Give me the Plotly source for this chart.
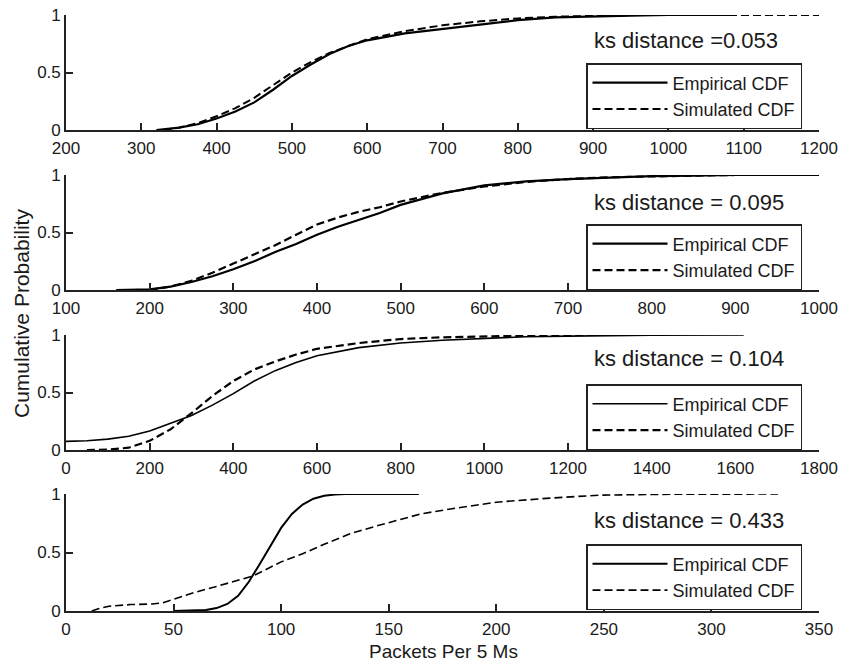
import plotly.graph_objects as go

# ---------------- data ----------------
# Panel 1
p1_emp_x = [320, 350, 375, 400, 425, 450, 475, 500, 525, 550, 575, 600, 650, 700, 750, 800, 850, 900, 950, 1000, 1085]
p1_emp_y = [0, 0.02, 0.05, 0.10, 0.16, 0.24, 0.35, 0.47, 0.57, 0.66, 0.73, 0.78, 0.84, 0.88, 0.92, 0.955, 0.98, 0.99, 0.995, 1.0, 1.0]
p1_sim_x = [330, 350, 375, 400, 425, 450, 475, 500, 525, 550, 575, 600, 650, 700, 750, 800, 850, 900, 950, 1000, 1200]
p1_sim_y = [0, 0.02, 0.06, 0.12, 0.19, 0.28, 0.39, 0.50, 0.59, 0.67, 0.73, 0.79, 0.86, 0.91, 0.945, 0.97, 0.985, 0.995, 1.0, 1.0, 1.0]

# Panel 2
p2_emp_x = [160, 200, 225, 250, 275, 300, 325, 350, 375, 400, 425, 450, 475, 500, 550, 600, 650, 700, 750, 800, 850, 900, 1000]
p2_emp_y = [0, 0.005, 0.03, 0.07, 0.12, 0.18, 0.25, 0.33, 0.40, 0.48, 0.55, 0.61, 0.67, 0.74, 0.84, 0.91, 0.945, 0.965, 0.98, 0.99, 0.995, 1.0, 1.0]
p2_sim_x = [200, 225, 250, 275, 300, 325, 350, 375, 400, 425, 450, 475, 500, 550, 600, 650, 700, 750, 800, 850, 900, 1000]
p2_sim_y = [0, 0.03, 0.08, 0.15, 0.23, 0.31, 0.39, 0.48, 0.57, 0.63, 0.68, 0.72, 0.77, 0.845, 0.90, 0.94, 0.965, 0.98, 0.99, 0.995, 1.0, 1.0]

# Panel 3
p3_emp_x = [0, 50, 100, 150, 200, 250, 300, 350, 400, 450, 500, 550, 600, 700, 800, 900, 1000, 1100, 1200, 1400, 1620]
p3_emp_y = [0.075, 0.08, 0.095, 0.12, 0.165, 0.23, 0.30, 0.39, 0.49, 0.60, 0.69, 0.76, 0.82, 0.89, 0.93, 0.955, 0.97, 0.985, 0.99, 0.998, 1.0]
p3_sim_x = [50, 100, 150, 200, 250, 300, 350, 400, 450, 500, 550, 600, 700, 800, 900, 1000, 1100, 1200, 1300]
p3_sim_y = [0, 0.003, 0.02, 0.08, 0.18, 0.32, 0.47, 0.60, 0.70, 0.77, 0.83, 0.88, 0.93, 0.965, 0.98, 0.99, 0.995, 1.0, 1.0]

# Panel 4
p4_emp_x = [50, 60, 65, 70, 75, 80, 85, 90, 95, 100, 105, 110, 115, 120, 125, 130, 164]
p4_emp_y = [0, 0.003, 0.008, 0.025, 0.06, 0.13, 0.25, 0.40, 0.56, 0.71, 0.83, 0.91, 0.96, 0.985, 0.995, 1.0, 1.0]
p4_sim_x = [12, 15, 20, 25, 30, 40, 45, 50, 55, 60, 70, 80, 87, 100, 110, 120, 132, 145, 155, 165, 178, 200, 225, 248, 275, 300, 331]
p4_sim_y = [0, 0.02, 0.04, 0.05, 0.055, 0.06, 0.07, 0.10, 0.13, 0.16, 0.21, 0.26, 0.30, 0.42, 0.49, 0.57, 0.66, 0.73, 0.78, 0.83, 0.87, 0.93, 0.965, 0.99, 0.997, 1.0, 1.0]

x_ranges = [[200, 1200], [100, 1000], [0, 1800], [0, 350]]
x_dticks = [100, 100, 200, 50]
ks_labels = ["ks distance =0.053", "ks distance = 0.095", "ks distance = 0.104", "ks distance = 0.433"]
series_names = ["Empirical CDF", "Simulated CDF"]
y_tickvals = [0, 0.5, 1]
y_ticktext = ["0", "0.5", "1"]

panels = [
    (p1_emp_x, p1_emp_y, p1_sim_x, p1_sim_y),
    (p2_emp_x, p2_emp_y, p2_sim_x, p2_sim_y),
    (p3_emp_x, p3_emp_y, p3_sim_x, p3_sim_y),
    (p4_emp_x, p4_emp_y, p4_sim_x, p4_sim_y),
]

# ---------------- layout geometry ----------------
W, H = 842, 663
FONT = "Liberation Sans, Arial, Helvetica, sans-serif"
TXT = "#1a1a1a"


def px_x(p):
    return p / W


def px_y(p):
    return (H - p) / H


x_left, x_right = 66, 819
panel_px = [(15, 130), (175, 290), (335, 450), (494, 611)]   # (top, bottom) in window px
legend_top_px = [63, 224, 384, 544]
ks_center_px = [40, 202, 358, 520]
emp_widths = [2.2, 2.2, 1.6, 2.0]
sim_widths = [2.0, 2.2, 2.2, 1.6]

fig = go.Figure()
layout = dict(
    width=W, height=H,
    margin=dict(l=0, r=0, t=0, b=0),
    paper_bgcolor="white", plot_bgcolor="white",
    font=dict(family=FONT, color=TXT, size=17),
    annotations=[],
)

for i, (ex, ey, sx, sy) in enumerate(panels):
    n = i + 1
    xa = "x" if n == 1 else f"x{n}"
    ya = "y" if n == 1 else f"y{n}"
    lg = "legend" if n == 1 else f"legend{n}"
    fig.add_trace(go.Scatter(x=ex, y=ey, mode="lines", name=series_names[0],
                             line=dict(color="black", width=emp_widths[i]),
                             xaxis=xa, yaxis=ya, legend=lg))
    fig.add_trace(go.Scatter(x=sx, y=sy, mode="lines", name=series_names[1],
                             line=dict(color="black", width=sim_widths[i], dash="8px,4px"),
                             xaxis=xa, yaxis=ya, legend=lg))
    top, bot = panel_px[i]
    axis_common = dict(showline=True, linecolor="#222", linewidth=1.6, ticks="inside",
                       ticklen=7, tickwidth=1.5, tickcolor="#222", showgrid=False,
                       zeroline=False, mirror=False, automargin=False,
                       ticklabeloverflow="allow",
                       tickfont=dict(family=FONT, size=17, color=TXT))
    layout["xaxis" if n == 1 else f"xaxis{n}"] = dict(
        domain=[px_x(x_left), px_x(x_right)], range=x_ranges[i], dtick=x_dticks[i],
        tick0=0, anchor=ya, ticklabelstandoff=2, **axis_common)
    layout["yaxis" if n == 1 else f"yaxis{n}"] = dict(
        domain=[px_y(bot), px_y(top)], range=[0, 1], tickvals=y_tickvals,
        ticktext=y_ticktext, anchor=xa, ticklabelstandoff=0, **axis_common)
    layout[lg] = dict(
        x=px_x(802), xanchor="right", y=px_y(legend_top_px[i]), yanchor="top",
        bordercolor="#222", borderwidth=1.5, bgcolor="white",
        font=dict(family=FONT, size=18, color=TXT), itemwidth=75,
        tracegroupgap=0, traceorder="normal")
    layout["annotations"].append(dict(
        text=ks_labels[i], xref="paper", yref="paper", x=px_x(592), xanchor="left",
        y=px_y(ks_center_px[i]), yanchor="middle", showarrow=False,
        font=dict(family=FONT, size=22, color=TXT)))

layout["annotations"].append(dict(
    text="Cumulative Probability", xref="paper", yref="paper", x=px_x(21), y=px_y(314),
    textangle=-90, showarrow=False, xanchor="center", yanchor="middle",
    font=dict(family=FONT, size=21, color=TXT)))
layout["annotations"].append(dict(
    text="Packets Per 5 Ms", xref="paper", yref="paper", x=px_x(443), y=px_y(651),
    showarrow=False, xanchor="center", yanchor="middle",
    font=dict(family=FONT, size=19, color=TXT)))

fig.update_layout(**layout)
fig.write_html(
    "out.html",
    config={"displayModeBar": False},
    post_script="document.body.style.margin='0px';document.body.style.overflow='hidden';",
)
